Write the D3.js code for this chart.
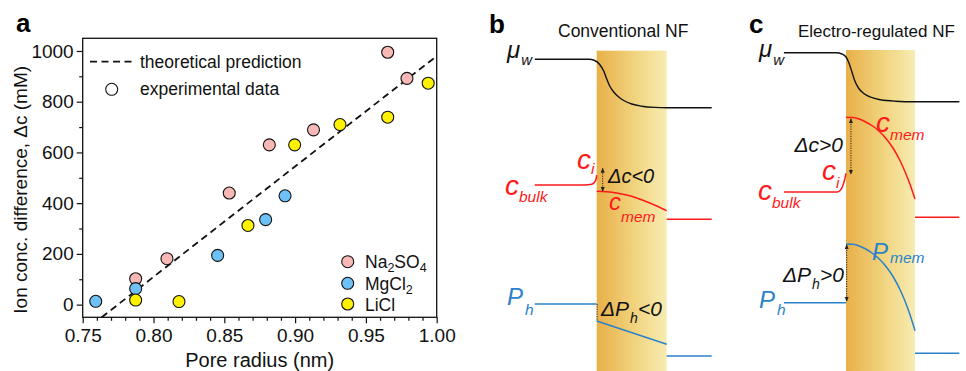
<!DOCTYPE html>
<html>
<head>
<meta charset="utf-8">
<script src="https://cdn.jsdelivr.net/npm/d3@7"></script>
<style>
  body { margin: 0; background: #fff; }
  svg { display: block; font-family: "Liberation Sans", Arial, Helvetica, sans-serif; }
</style>
</head>
<body>
<div id="chart"></div>
<script>
// ---- panel a data ----
const xTicks = [0.75, 0.80, 0.85, 0.90, 0.95, 1.00];
const yTicks = [0, 200, 400, 600, 800, 1000];
const na2so4 = [[0.7874, 102], [0.8095, 181], [0.8535, 440], [0.8818, 630], [0.913, 689], [0.9654, 995], [0.979, 892]];
const mgcl2 = [[0.7592, 13], [0.7874, 63], [0.8453, 194], [0.8792, 335], [0.8929, 429]];
const licl = [[0.7874, 18], [0.818, 12], [0.8667, 312], [0.8997, 630], [0.9317, 710], [0.9654, 739], [0.994, 873]];
const theory = [[0.7634, -50], [1.0, 980]];
const saltNames = ['Na2SO4', 'MgCl2', 'LiCl'];
const saltColors = ['#f8b9b6', '#6ec1f6', '#fff200'];

// ---- panels b/c schematic profiles: [position relative to membrane (0..70), level] ----
const muB = [[-62, 59.3], [-8, 59.3], [-2, 60.5], [3, 64.5], [7, 71], [10, 79], [13, 86], [17, 92], [22, 97], [27, 100.5], [35, 104], [45, 106.2], [58, 107.4], [70, 107.7], [115, 107.7]];
const cBulkB = [[-62, 185], [-12, 185], [-5, 184.3], [-2, 182], [-0.5, 178.5], [0, 175]];
const cMemB = [[0, 191.2], [10, 191.7], [20, 192.9], [30, 195], [40, 198], [50, 201.8], [60, 206], [70, 210.7]];
const cOutB = [[70, 219.3], [115, 219.3]];
const pBulkB = [[-62, 304], [0, 304]];
const pMemB = [[0, 321], [70, 344.3]];
const pOutB = [[70, 356], [115, 356]];

const muC = [[-63, 52.7], [-10, 52.7], [-4, 54], [0, 57], [3, 63], [6, 72], [9, 81], [13, 88.5], [18, 93.5], [25, 97.2], [35, 99.8], [50, 101.2], [70, 101.7], [115, 101.7]];
const cBulkC = [[-63, 192], [-9, 192], [-6, 190.5], [-3, 185], [-1, 178], [0, 173.3]];
const cMemC = [[0, 117.3], [7, 117.6], [14, 119.3], [20, 122], [27, 126], [34, 131.5], [41, 139], [48, 148.5], [55, 161], [60, 172], [65, 184.5], [70, 199]];
const cOutC = [[70, 217.3], [115, 217.3]];
const pBulkC = [[-63, 302.7], [0, 302.7]];
const pMemC = [[0, 244], [7, 244.3], [14, 246.2], [20, 249], [27, 253.5], [34, 259.3], [41, 267], [48, 277], [55, 290], [60, 301.5], [65, 315], [70, 330.7]];
const pOutC = [[70, 353.3], [115, 353.3]];

const RED = '#ff1a1a';
const BLUE = '#2a82c9';

const W = 966, H = 371;
const svg = d3.select('#chart').append('svg').attr('width', W).attr('height', H);

const defs = svg.append('defs');
const grad = defs.append('linearGradient').attr('id', 'memGrad').attr('x1', '0%').attr('x2', '100%');
grad.append('stop').attr('offset', '0%').attr('stop-color', '#e8b049');
grad.append('stop').attr('offset', '55%').attr('stop-color', '#f1d47f');
grad.append('stop').attr('offset', '100%').attr('stop-color', '#f7ecb2');
defs.append('marker').attr('id', 'ah').attr('viewBox', '0 0 6 6').attr('refX', 5).attr('refY', 3)
  .attr('markerWidth', 5).attr('markerHeight', 5).attr('orient', 'auto-start-reverse')
  .append('path').attr('d', 'M0,0.5L6,3L0,5.5Z').attr('fill', '#222');

// ================= panel a =================
const m = { left: 82.7, right: 436.7, top: 38.3, bottom: 317.3 };
const x = d3.scaleLinear().domain([0.75, 1.0]).range([m.left, m.right]);
const y = d3.scaleLinear().domain([-50, 1050]).range([m.bottom, m.top]);

const ga = svg.append('g');
ga.append('text').attr('x', 16).attr('y', 32).attr('font-size', 26).attr('font-weight', 'bold').text('a');

// axes
const xAxis = d3.axisBottom(x).tickValues(xTicks).tickFormat(d3.format('.2f')).tickSize(6).tickSizeOuter(0).tickPadding(5);
const xMinor = d3.axisBottom(x).tickValues(d3.range(0.76, 1.0, 0.01).filter(v => Math.abs(v * 20 - Math.round(v * 20)) > 1e-6)).tickSize(3.5).tickFormat('').tickSizeOuter(0);
const yAxis = d3.axisLeft(y).tickValues(yTicks).tickFormat(d3.format('d')).tickSize(6).tickSizeOuter(0).tickPadding(3);
const yMinor = d3.axisLeft(y).tickValues([100, 300, 500, 700, 900]).tickSize(3.5).tickFormat('').tickSizeOuter(0);

[[xAxis, 'x'], [xMinor, 'x'], [yAxis, 'y'], [yMinor, 'y']].forEach(([ax, k]) => {
  const g = ga.append('g')
    .attr('transform', k === 'x' ? `translate(0,${m.bottom})` : `translate(${m.left},0)`)
    .call(ax);
  g.select('.domain').remove();
  g.selectAll('line').attr('stroke', '#111').attr('stroke-width', 1.2);
  g.selectAll('text').attr('font-size', 19).attr('fill', '#111').attr('font-family', '"Liberation Sans", Arial, sans-serif');
});

// frame
ga.append('rect').attr('x', m.left).attr('y', m.top).attr('width', m.right - m.left).attr('height', m.bottom - m.top)
  .attr('fill', 'none').attr('stroke', '#111').attr('stroke-width', 1.3);

// clip
defs.append('clipPath').attr('id', 'clipA').append('rect')
  .attr('x', m.left).attr('y', m.top).attr('width', m.right - m.left).attr('height', m.bottom - m.top);

ga.append('path').datum(theory)
  .attr('clip-path', 'url(#clipA)')
  .attr('d', d3.line().x(d => x(d[0])).y(d => y(d[1])))
  .attr('fill', 'none').attr('stroke', '#111').attr('stroke-width', 1.8).attr('stroke-dasharray', '7,4.5');

[na2so4, mgcl2, licl].forEach((set, i) => {
  ga.append('g').selectAll('circle').data(set).join('circle')
    .attr('cx', d => x(d[0])).attr('cy', d => y(d[1])).attr('r', 6)
    .attr('fill', saltColors[i]).attr('stroke', '#111').attr('stroke-width', 1.1);
});

// axis titles
ga.append('text').attr('x', (m.left + m.right) / 2).attr('y', 367).attr('text-anchor', 'middle')
  .attr('font-size', 20).attr('fill', '#111').text('Pore radius (nm)');
const yt = ga.append('text').attr('transform', `translate(27,${(m.top + m.bottom) / 2 + 12}) rotate(-90)`)
  .attr('text-anchor', 'middle').attr('font-size', 19).attr('fill', '#111');
yt.append('tspan').text('Ion conc. difference, Δ');
yt.append('tspan').text('c');
yt.append('tspan').text(' (mM)');

// legend top-left
ga.append('line').attr('x1', 90).attr('x2', 133).attr('y1', 61.7).attr('y2', 61.7)
  .attr('stroke', '#111').attr('stroke-width', 1.8).attr('stroke-dasharray', '7,4.5');
ga.append('text').attr('x', 140).attr('y', 68).attr('font-size', 17.5).attr('fill', '#111').text('theoretical prediction');
ga.append('circle').attr('cx', 111.7).attr('cy', 89.3).attr('r', 6).attr('fill', '#fff').attr('stroke', '#111').attr('stroke-width', 1.1);
ga.append('text').attr('x', 140).attr('y', 95).attr('font-size', 17.5).attr('fill', '#111').text('experimental data');

// legend bottom-right
const legY = [261.7, 283.3, 304];
const legLabels = [[['Na', 0], ['2', 1], ['SO', 0], ['4', 1]], [['MgCl', 0], ['2', 1]], [['LiCl', 0]]];
saltNames.forEach((n, i) => {
  ga.append('circle').attr('cx', 347.7).attr('cy', legY[i]).attr('r', 6)
    .attr('fill', saltColors[i]).attr('stroke', '#111').attr('stroke-width', 1.1);
  const t = ga.append('text').attr('x', 365).attr('y', legY[i] + 6.5).attr('font-size', 17.5).attr('fill', '#111');
  let prevSub = 0;
  legLabels[i].forEach(([s, sub]) => {
    const ts = t.append('tspan').text(s);
    if (sub) { ts.attr('font-size', 12.5).attr('dy', 4); prevSub = 1; }
    else if (prevSub) { ts.attr('dy', -4); prevSub = 0; }
  });
});

// ================= panels b and c =================
function label(g, px, py, main, sub, subDx, subDy, color, size, subSize, italic = true) {
  const t = g.append('text').attr('x', px).attr('y', py).attr('fill', color)
    .attr('font-size', size).attr('font-style', italic ? 'italic' : 'normal');
  t.append('tspan').text(main);
  if (sub) t.append('tspan').attr('font-size', subSize).attr('dx', subDx).attr('dy', subDy).text(sub);
  return t;
}

function schematic(cfg) {
  const g = svg.append('g');
  const xs = d3.scaleLinear().domain([0, 70]).range([cfg.memL, cfg.memR]);
  const ys = d3.scaleLinear().domain([0, H]).range([0, H]);
  const line = d3.line().x(d => xs(d[0])).y(d => ys(d[1])).curve(d3.curveMonotoneX);

  g.append('rect').attr('x', xs(0)).attr('y', ys(cfg.memTop)).attr('width', xs(70) - xs(0)).attr('height', H - cfg.memTop)
    .attr('fill', 'url(#memGrad)');

  g.append('text').attr('x', cfg.letterX).attr('y', 33).attr('font-size', 26).attr('font-weight', 'bold').text(cfg.letter);
  g.append('text').attr('x', cfg.titleX).attr('y', 37).attr('font-size', cfg.titleSize).attr('fill', '#111').text(cfg.title);

  const draw = (pts, col, w) => g.append('path').datum(pts).attr('d', line)
    .attr('fill', 'none').attr('stroke', col).attr('stroke-width', w);
  draw(cfg.mu, '#111', 1.4);
  cfg.c.forEach(p => draw(p, RED, 1.5));
  cfg.p.forEach(p => draw(p, BLUE, 1.5));

  cfg.arrows.forEach(a => {
    g.append('line').attr('x1', xs(a[0])).attr('x2', xs(a[0])).attr('y1', ys(a[1])).attr('y2', ys(a[2]))
      .attr('stroke', '#222').attr('stroke-width', 1).attr('stroke-dasharray', '1.2,1.2')
      .attr('marker-start', a[3] ? 'url(#ah)' : null).attr('marker-end', a[3] ? 'url(#ah)' : null);
  });
  cfg.labels.forEach(l => {
    const t = label(g, l[0], l[1], l[2], l[3], l[4], l[5], l[6], l[7], l[8]);
    if (l[9]) t.attr('text-anchor', 'end');
    if (l[10]) t.append('tspan').attr('dy', -l[5]).attr('font-size', l[7]).text(l[10]);
  });
}

schematic({
  memL: 596.7, memR: 666.7, memTop: 50.7, letter: 'b', letterX: 489, title: 'Conventional NF', titleX: 558, titleSize: 17.5,
  mu: muB, c: [cBulkB, cMemB, cOutB], p: [pBulkB, pMemB, pOutB],
  arrows: [[6, 168.5, 191, true], [0.4, 304, 321, false]],
  labels: [
    [507, 58, 'μ', 'w', 1, 7, '#111', 24, 15],
    [505, 195, 'c', 'bulk', 0, 7, RED, 28, 15.5],
    [577, 168.5, 'c', 'i', 0, 5, RED, 28, 15.5],
    [608, 183, 'Δc<0', null, 0, 0, '#111', 20, 14],
    [609, 209.5, 'c', 'mem', 0, 12.5, RED, 24, 15.5],
    [507, 305, 'P', 'h', 2, 10, BLUE, 24, 15.5],
    [601, 316, 'ΔP', 'h', 1, 7, '#111', 21, 14, false, '<0']
  ]
});

schematic({
  memL: 846, memR: 915, memTop: 50, letter: 'c', letterX: 749, title: 'Electro-regulated NF', titleX: 798, titleSize: 17,
  mu: muC, c: [cBulkC, cMemC, cOutC], p: [pBulkC, pMemC, pOutC],
  arrows: [[5, 119, 174, true], [0.7, 245, 301, true]],
  labels: [
    [759, 57, 'μ', 'w', 1, 8, '#111', 24, 15],
    [843, 151.5, 'Δc>0', null, 0, 0, '#111', 21, 14, true],
    [876, 131.5, 'c', 'mem', 0, 8, RED, 28, 15.5],
    [822, 180, 'c', 'i', 0, 8, RED, 28, 15.5],
    [758, 200, 'c', 'bulk', 0, 8, RED, 28, 15.5],
    [872, 260, 'P', 'mem', 2, 3, BLUE, 24, 15.5],
    [783, 281.5, 'ΔP', 'h', 1, 7, '#111', 21, 14, false, '>0'],
    [759, 308, 'P', 'h', 2, 7, BLUE, 24, 15.5]
  ]
});
</script>
</body>
</html>
